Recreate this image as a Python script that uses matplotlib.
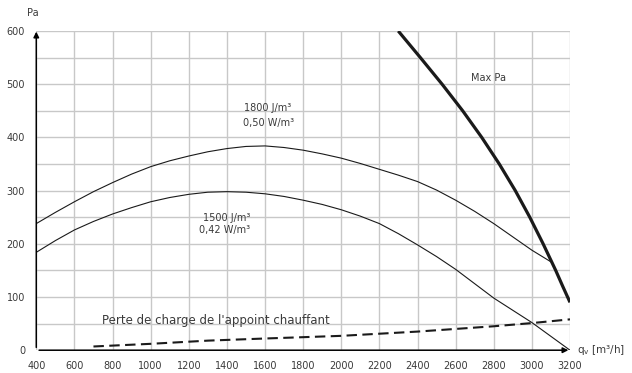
import numpy as np
import matplotlib
matplotlib.use("Agg")
import matplotlib.pyplot as plt

plt.rcParams['font.family'] = ['DejaVu Sans']
plt.rcParams['mathtext.fontset'] = 'custom'
plt.rcParams['mathtext.rm'] = 'DejaVu Sans'

TXT = '#3a3a3a'

# upper fan curve (1800 J/m3)
q_1800 = [400, 500, 600, 700, 800, 900, 1000, 1100, 1200, 1300, 1400, 1500, 1600, 1700,
          1800, 1900, 2000, 2100, 2200, 2300, 2400, 2500, 2600, 2700, 2800, 2900, 3000, 3105]
p_1800 = [238, 259, 279, 298, 315, 331, 345, 356, 365, 373, 379, 383, 384, 381,
          376, 369, 361, 351, 340, 329, 317, 301, 282, 261, 238, 213, 188, 165]

# lower fan curve (1500 J/m3)
q_1500 = [400, 500, 600, 700, 800, 900, 1000, 1100, 1200, 1300, 1400, 1500, 1600, 1700,
          1800, 1900, 2000, 2100, 2200, 2300, 2400, 2500, 2600, 2700, 2800, 2900, 3000, 3100, 3200]
p_1500 = [184, 206, 226, 242, 256, 268, 279, 287, 293, 297, 298, 297, 294, 289,
          282, 274, 264, 252, 238, 219, 198, 176, 152, 125, 98, 75, 52, 26, 0]

# max pressure limit
q_max = [2299, 2357, 2415, 2472, 2529, 2583, 2637, 2687, 2737, 2783, 2829, 2871, 2913,
         2951, 2989, 3024, 3059, 3092, 3125, 3162, 3200]
p_max = [600, 575, 550, 525, 500, 475, 450, 425, 400, 375, 350, 325, 300,
         275, 250, 225, 200, 175, 150, 120, 90]

# heater pressure drop
q_heat = [700, 1000, 1300, 1600, 2000, 2400, 2800, 3000, 3200]
p_heat = [7, 12, 18, 22, 27, 35, 45, 51, 58]

x_ticks = list(range(400, 3201, 200))
y_ticks = [0, 100, 200, 300, 400, 500, 600]

fig = plt.figure(figsize=(6.32, 3.73), dpi=100)
ax = fig.add_axes([0.0574, 0.0611, 0.8445, 0.8558])

ax.set_xlim(400, 3200)
ax.set_ylim(0, 600)
ax.set_xticks(x_ticks)
ax.set_yticks(y_ticks)
ax.set_yticks(range(0, 601, 50), minor=True)
ax.grid(True, which='both', color='#c8c8c8', lw=1.0)
ax.set_axisbelow(True)
ax.tick_params(which='both', length=0, labelsize=7, colors=TXT, pad=8)
for s in ax.spines.values():
    s.set_visible(False)

ax.plot(q_1800, p_1800, color='#1a1a1a', lw=0.8)
ax.plot(q_1500, p_1500, color='#1a1a1a', lw=0.8)
ax.plot(q_max, p_max, color='#1a1a1a', lw=2.3, solid_capstyle='butt', solid_joinstyle='round')
ax.plot(q_heat, p_heat, color='#1a1a1a', lw=1.5, dashes=(5, 2.6))

# axes with arrows
ax.annotate('', xy=(400, 604), xytext=(400, 0),
            arrowprops=dict(arrowstyle='-|>', color='k', lw=1.1, mutation_scale=8), annotation_clip=False)
ax.annotate('', xy=(3206, 0), xytext=(400, 0),
            arrowprops=dict(arrowstyle='-|>', color='k', lw=1.1, mutation_scale=8), annotation_clip=False)

fs = 7
ax.text(383, 634, 'Pa', ha='center', va='center', fontsize=fs, color=TXT, clip_on=False)
ax.text(3235, 0, 'q$_{\\mathregular{v}}$ [m³/h]', ha='left', va='center', fontsize=7.5, color=TXT, clip_on=False)

ax.text(1616, 455, '1800 J/m³', ha='center', va='center', fontsize=fs, color=TXT)
ax.text(1616, 427, '0,50 W/m³', ha='center', va='center', fontsize=fs, color=TXT)
ax.text(1400, 248, '1500 J/m³', ha='center', va='center', fontsize=fs, color=TXT)
ax.text(1390, 226, '0,42 W/m³', ha='center', va='center', fontsize=fs, color=TXT)
ax.text(2771, 511, 'Max Pa', ha='center', va='center', fontsize=fs, color=TXT)
ax.text(743, 55, "Perte de charge de l'appoint chauffant", ha='left', va='center', fontsize=8.5, color=TXT)

fig.savefig('out.png', dpi=100)
